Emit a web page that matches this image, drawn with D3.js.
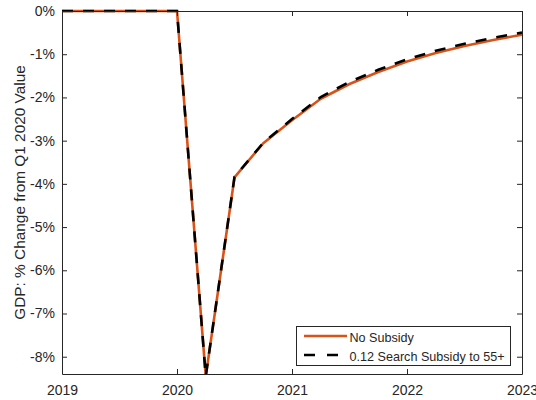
<!DOCTYPE html>
<html>
<head>
<meta charset="utf-8">
<script src="https://cdn.jsdelivr.net/npm/d3@7/dist/d3.min.js"></script>
<style>
  html, body { margin: 0; padding: 0; background: #fff; }
  svg { display: block; font-family: "Liberation Sans", Arial, Helvetica, sans-serif; }
</style>
</head>
<body>
<svg id="chart" width="536" height="400"></svg>
<script>
// Quarterly time points, 2019Q1 .. 2023Q1 (as fractional years)
const quarters = [2019, 2019.25, 2019.5, 2019.75, 2020, 2020.25, 2020.5, 2020.75,
                  2021, 2021.25, 2021.5, 2021.75, 2022, 2022.25, 2022.5, 2022.75, 2023];

// GDP, % change from the Q1 2020 value
const noSubsidy = [0, 0, 0, 0, 0, -8.45, -3.85, -3.06,
                   -2.53, -2.03, -1.69, -1.41, -1.17, -0.97, -0.81, -0.67, -0.55];
const searchSubsidy = [0, 0, 0, 0, 0, -8.45, -3.84, -3.05,
                       -2.50, -1.99, -1.64, -1.36, -1.12, -0.92, -0.76, -0.62, -0.50];

const xTicks = [2019, 2020, 2021, 2022, 2023];
const yTicks = [0, -1, -2, -3, -4, -5, -6, -7, -8];

const seriesNames = ["No Subsidy", "0.12 Search Subsidy to 55+"];

const svg = d3.select("#chart");
const mLeft = 62, mRight = 522, mTop = 11, mBottom = 374;
const axisColor = "#262626";

const x = d3.scaleLinear().domain([2019, 2023]).range([mLeft, mRight]);
const y = d3.scaleLinear().domain([-8.4, 0]).range([mBottom, mTop]);

// Data lines, clipped at the lower axis limit
svg.append("defs").append("clipPath").attr("id", "plotClip")
  .append("rect").attr("x", mLeft - 5).attr("y", mTop - 5)
  .attr("width", mRight - mLeft + 10).attr("height", mBottom - mTop + 5);

const line = d3.line().x((d, i) => x(quarters[i])).y(d => y(d));
const plot = svg.append("g").attr("clip-path", "url(#plotClip)");

plot.append("path").datum(noSubsidy)
  .attr("d", line).attr("fill", "none")
  .attr("stroke", "#D95319").attr("stroke-width", 2.6)
  .attr("stroke-linejoin", "round");

plot.append("path").datum(searchSubsidy)
  .attr("d", line).attr("fill", "none")
  .attr("stroke", "#000").attr("stroke-width", 2.6)
  .attr("stroke-dasharray", "11,10");

// Axes (ticks inward, box on)
const tickLen = 5;
const xAxisB = d3.axisBottom(x).tickValues(xTicks).tickFormat(d3.format("d"))
  .tickSizeInner(-tickLen).tickSizeOuter(0).tickPadding(11);
const xAxisT = d3.axisTop(x).tickValues(xTicks).tickFormat("")
  .tickSizeInner(-tickLen).tickSizeOuter(0);
const yAxisL = d3.axisLeft(y).tickValues(yTicks).tickFormat(d => d + "%")
  .tickSizeInner(-tickLen).tickSizeOuter(0).tickPadding(7);
const yAxisR = d3.axisRight(y).tickValues(yTicks).tickFormat("")
  .tickSizeInner(-tickLen).tickSizeOuter(0);

function styleAxis(g) {
  g.select(".domain").attr("stroke", axisColor);
  g.selectAll(".tick line").attr("stroke", axisColor);
  g.selectAll(".tick text").attr("fill", axisColor)
    .style("font-size", "14px").style("font-family", "'Liberation Sans', Arial, sans-serif");
}

svg.append("g").attr("transform", `translate(0,${mBottom})`).call(xAxisB).call(styleAxis);
svg.append("g").attr("transform", `translate(0,${mTop})`).call(xAxisT).call(styleAxis);
svg.append("g").attr("transform", `translate(${mLeft},0)`).call(yAxisL).call(styleAxis);
svg.append("g").attr("transform", `translate(${mRight},0)`).call(yAxisR).call(styleAxis);

// Y-axis title
svg.append("text")
  .attr("transform", `translate(25,${(mTop + mBottom) / 2}) rotate(-90)`)
  .attr("text-anchor", "middle")
  .attr("fill", axisColor)
  .style("font-size", "15.4px")
  .text("GDP: % Change from Q1 2020 Value");

// Legend
const lg = svg.append("g");
lg.append("rect").attr("x", 296.5).attr("y", 326.5).attr("width", 214).attr("height", 39)
  .attr("fill", "#fff").attr("stroke", axisColor).attr("stroke-width", 1);
const rows = [
  { name: seriesNames[0], color: "#D95319", dash: null, yy: 336, base: 341.5 },
  { name: seriesNames[1], color: "#000", dash: "11,12", yy: 355, base: 360.5 }
];
rows.forEach(r => {
  lg.append("line").attr("x1", 304).attr("x2", 347).attr("y1", r.yy).attr("y2", r.yy)
    .attr("stroke", r.color).attr("stroke-width", 2.6)
    .attr("stroke-dasharray", r.dash);
  lg.append("text").attr("x", 349.5).attr("y", r.base)
    .attr("fill", axisColor).style("font-size", "12.6px").text(r.name);
});
</script>
</body>
</html>
